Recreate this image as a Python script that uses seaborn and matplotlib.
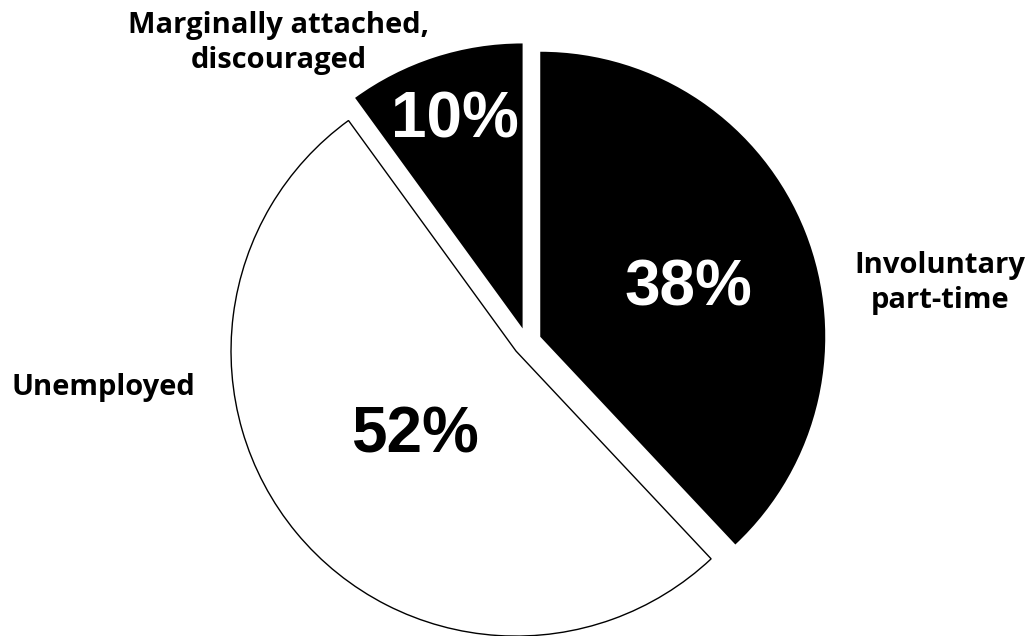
import matplotlib
matplotlib.use("Agg")
import matplotlib.pyplot as plt
import seaborn as sns

categories = ["Involuntary\npart-time", "Unemployed", "Marginally attached,\ndiscouraged"]
values = [38, 52, 10]
pct_labels = ["38%", "52%", "10%"]

sns.set_theme(style="white")
plt.rcParams["font.family"] = ["Open Sans", "DejaVu Sans"]

W, H = 1031, 636
fig = plt.figure(figsize=(W / 100, H / 100), dpi=100)
ax = fig.add_axes([0, 0, 1, 1])

R = 285.0   # radius in px
cx, cy = 527.0, 342.0  # center in px (from top)

wedges, _ = ax.pie(values, colors=["black", "white", "black"], startangle=90,
                   counterclock=False, explode=[0.05, 0.05, 0.05], radius=1.0,
                   wedgeprops=dict(linewidth=0))
wedges[1].set_edgecolor("black")
wedges[1].set_linewidth(1.0)

ax.set_xlim(-cx / R, (W - cx) / R)
ax.set_ylim(-(H - cy) / R, cy / R)
ax.set_aspect("equal")
ax.axis("off")

def P(px, py):
    return (px - cx) / R, (cy - py) / R

pct_pos = [P(688, 289), P(415, 436), P(455, 120)]
pct_col = ["white", "black", "white"]
for t, pos, c in zip(pct_labels, pct_pos, pct_col):
    ax.text(*pos, t, ha="center", va="center", color=c, fontsize=46,
            fontweight="bold", family=["Liberation Sans", "DejaVu Sans"])

cat_pos = [P(940, 283), P(103, 388), P(279, 43)]
for t, pos in zip(categories, cat_pos):
    ax.text(*pos, t, ha="center", va="center", color="black", fontsize=21,
            fontweight="bold", linespacing=1.3)

fig.savefig("out.png", dpi=100, facecolor="white")
